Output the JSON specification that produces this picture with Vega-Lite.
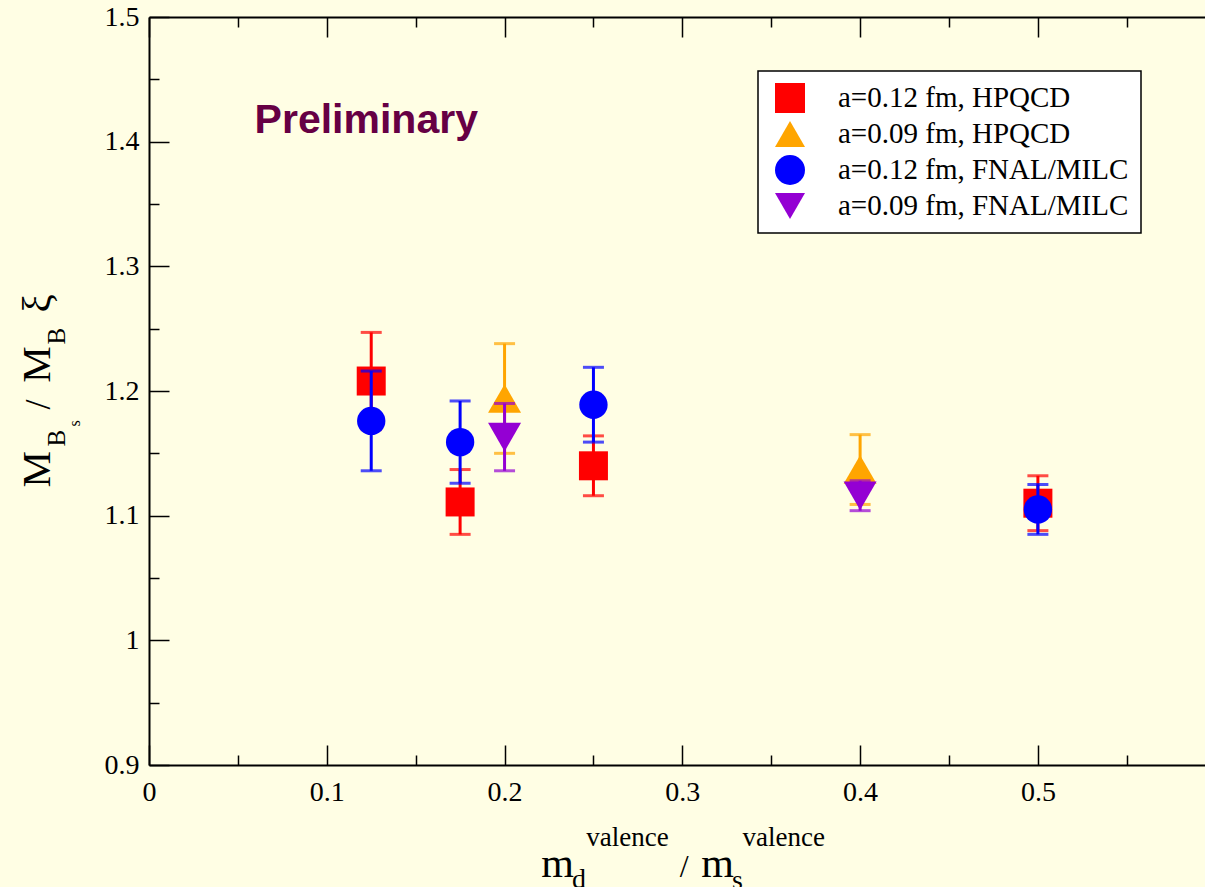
{
  "$schema": "https://vega.github.io/schema/vega-lite/v6.json",
  "autosize": {"type": "none"},
  "padding": {"left": 149, "top": 17, "right": 0, "bottom": 122},
  "width": 1056,
  "height": 748,
  "background": "#fffee4",
  "config": {
    "view": {"stroke": null},
    "axis": {"grid": false, "domainColor": "black", "domainWidth": 2, "tickColor": "black", "tickWidth": 1.5, "labelFont": "Liberation Serif", "labelFontSize": 28, "labelColor": "black", "labelFlush": false, "labelOverlap": false},
    "legend": {"strokeWidth": 1.5}
  },
  "data": {"values": [
    {"s": "a=0.12 fm, HPQCD", "x": 0.125, "y": 1.208, "lo": 1.169, "hi": 1.247},
    {"s": "a=0.12 fm, HPQCD", "x": 0.175, "y": 1.111, "lo": 1.085, "hi": 1.137},
    {"s": "a=0.12 fm, HPQCD", "x": 0.25, "y": 1.140, "lo": 1.116, "hi": 1.164},
    {"s": "a=0.12 fm, HPQCD", "x": 0.5, "y": 1.110, "lo": 1.088, "hi": 1.132},
    {"s": "a=0.09 fm, HPQCD", "x": 0.2, "y": 1.194, "lo": 1.150, "hi": 1.238},
    {"s": "a=0.09 fm, HPQCD", "x": 0.4, "y": 1.137, "lo": 1.109, "hi": 1.165},
    {"s": "a=0.12 fm, FNAL/MILC", "x": 0.125, "y": 1.176, "lo": 1.136, "hi": 1.216},
    {"s": "a=0.12 fm, FNAL/MILC", "x": 0.175, "y": 1.159, "lo": 1.126, "hi": 1.192},
    {"s": "a=0.12 fm, FNAL/MILC", "x": 0.25, "y": 1.189, "lo": 1.159, "hi": 1.219},
    {"s": "a=0.12 fm, FNAL/MILC", "x": 0.5, "y": 1.105, "lo": 1.085, "hi": 1.125},
    {"s": "a=0.09 fm, FNAL/MILC", "x": 0.2, "y": 1.163, "lo": 1.136, "hi": 1.190},
    {"s": "a=0.09 fm, FNAL/MILC", "x": 0.4, "y": 1.116, "lo": 1.104, "hi": 1.128}
  ]},
  "resolve": {"axis": {"x": "independent", "y": "independent"}},
  "layer": [
    {"transform": [{"filter": "datum.s === 'a=0.12 fm, HPQCD'"}],
     "mark": {"type": "rule", "color": "#ff0000", "strokeWidth": 3},
     "encoding": {
       "x": {"field": "x", "type": "quantitative", "scale": {"domain": [0, 0.594], "nice": false}, "axis": {"orient": "bottom", "title": null, "values": [0, 0.1, 0.2, 0.3, 0.4, 0.5], "format": "~g", "tickSize": -20, "labelPadding": 33}},
       "y": {"field": "lo", "type": "quantitative", "scale": {"domain": [0.9, 1.5], "nice": false, "zero": false}, "axis": {"orient": "left", "title": null, "values": [0.9, 1, 1.1, 1.2, 1.3, 1.4, 1.5], "format": "~g", "tickSize": -20, "labelPadding": 30}},
       "y2": {"field": "hi"}}},
    {"transform": [{"filter": "datum.s === 'a=0.12 fm, HPQCD'"}],
     "mark": {"type": "tick", "orient": "horizontal", "color": "#ff0000", "size": 21, "thickness": 3},
     "encoding": {
       "x": {"field": "x", "type": "quantitative", "scale": {"domain": [0, 0.594], "nice": false}, "axis": {"orient": "bottom", "title": null, "values": [0.05, 0.15, 0.25, 0.35, 0.45, 0.55], "labels": false, "domain": false, "tickSize": -10}},
       "y": {"field": "lo", "type": "quantitative", "scale": {"domain": [0.9, 1.5], "nice": false, "zero": false}, "axis": {"orient": "left", "title": null, "values": [0.95, 1.05, 1.15, 1.25, 1.35, 1.45], "labels": false, "domain": false, "tickSize": -10}}}},
    {"transform": [{"filter": "datum.s === 'a=0.12 fm, HPQCD'"}],
     "mark": {"type": "tick", "orient": "horizontal", "color": "#ff0000", "size": 21, "thickness": 3},
     "encoding": {
       "x": {"field": "x", "type": "quantitative", "scale": {"domain": [0, 0.594], "nice": false}, "axis": {"orient": "top", "title": null, "values": [0, 0.1, 0.2, 0.3, 0.4, 0.5], "labels": false, "tickSize": -20}},
       "y": {"field": "hi", "type": "quantitative", "scale": {"domain": [0.9, 1.5], "nice": false, "zero": false}, "axis": null}}},
    {"transform": [{"filter": "datum.s === 'a=0.12 fm, HPQCD'"}],
     "mark": {"type": "point", "filled": true, "opacity": 1, "size": 841, "strokeWidth": 0},
     "encoding": {
       "x": {"field": "x", "type": "quantitative", "scale": {"domain": [0, 0.594], "nice": false}, "axis": {"orient": "top", "title": null, "values": [0.05, 0.15, 0.25, 0.35, 0.45, 0.55], "labels": false, "domain": false, "tickSize": -10}},
       "y": {"field": "y", "type": "quantitative", "scale": {"domain": [0.9, 1.5], "nice": false, "zero": false}, "axis": null},
       "color": {"field": "s", "type": "nominal", "scale": {"domain": ["a=0.12 fm, HPQCD", "a=0.09 fm, HPQCD", "a=0.12 fm, FNAL/MILC", "a=0.09 fm, FNAL/MILC"], "range": ["#ff0000", "#ffa500", "#0000ff", "#9400d3"]}, "legend": {"title": null, "orient": "none", "legendX": 609, "legendY": 54, "fillColor": "white", "strokeColor": "black", "padding": 12, "symbolSize": 900, "symbolOffset": 5, "labelOffset": 33, "labelFont": "Liberation Serif", "labelFontSize": 29, "labelLimit": 500, "labelColor": "black", "rowPadding": 6, "symbolStrokeWidth": 0, "symbolOpacity": 1}},
       "shape": {"field": "s", "type": "nominal", "scale": {"domain": ["a=0.12 fm, HPQCD", "a=0.09 fm, HPQCD", "a=0.12 fm, FNAL/MILC", "a=0.09 fm, FNAL/MILC"], "range": ["square", "triangle-up", "circle", "triangle-down"]}, "legend": {"title": null, "orient": "none", "legendX": 609, "legendY": 54, "fillColor": "white", "strokeColor": "black", "padding": 12, "symbolSize": 900, "symbolOffset": 5, "labelOffset": 33, "labelFont": "Liberation Serif", "labelFontSize": 29, "labelLimit": 500, "labelColor": "black", "rowPadding": 6, "symbolStrokeWidth": 0, "symbolOpacity": 1}}}},

    {"transform": [{"filter": "datum.s === 'a=0.09 fm, HPQCD'"}],
     "mark": {"type": "rule", "color": "#ffa500", "strokeWidth": 3},
     "encoding": {
       "x": {"field": "x", "type": "quantitative", "scale": {"domain": [0, 0.594], "nice": false}, "axis": null},
       "y": {"field": "lo", "type": "quantitative", "scale": {"domain": [0.9, 1.5], "nice": false, "zero": false}, "axis": null},
       "y2": {"field": "hi"}}},
    {"transform": [{"filter": "datum.s === 'a=0.09 fm, HPQCD'"}],
     "mark": {"type": "tick", "orient": "horizontal", "color": "#ffa500", "size": 21, "thickness": 3},
     "encoding": {
       "x": {"field": "x", "type": "quantitative", "scale": {"domain": [0, 0.594], "nice": false}, "axis": null},
       "y": {"field": "lo", "type": "quantitative", "scale": {"domain": [0.9, 1.5], "nice": false, "zero": false}, "axis": null}}},
    {"transform": [{"filter": "datum.s === 'a=0.09 fm, HPQCD'"}],
     "mark": {"type": "tick", "orient": "horizontal", "color": "#ffa500", "size": 21, "thickness": 3},
     "encoding": {
       "x": {"field": "x", "type": "quantitative", "scale": {"domain": [0, 0.594], "nice": false}, "axis": null},
       "y": {"field": "hi", "type": "quantitative", "scale": {"domain": [0.9, 1.5], "nice": false, "zero": false}, "axis": null}}},
    {"transform": [{"filter": "datum.s === 'a=0.09 fm, HPQCD'"}],
     "mark": {"type": "point", "filled": true, "opacity": 1, "size": 1089, "strokeWidth": 0},
     "encoding": {
       "x": {"field": "x", "type": "quantitative", "scale": {"domain": [0, 0.594], "nice": false}, "axis": null},
       "y": {"field": "y", "type": "quantitative", "scale": {"domain": [0.9, 1.5], "nice": false, "zero": false}, "axis": null},
       "color": {"field": "s", "type": "nominal", "scale": {"domain": ["a=0.12 fm, HPQCD", "a=0.09 fm, HPQCD", "a=0.12 fm, FNAL/MILC", "a=0.09 fm, FNAL/MILC"], "range": ["#ff0000", "#ffa500", "#0000ff", "#9400d3"]}},
       "shape": {"field": "s", "type": "nominal", "scale": {"domain": ["a=0.12 fm, HPQCD", "a=0.09 fm, HPQCD", "a=0.12 fm, FNAL/MILC", "a=0.09 fm, FNAL/MILC"], "range": ["square", "triangle-up", "circle", "triangle-down"]}}}},

    {"transform": [{"filter": "datum.s === 'a=0.12 fm, FNAL/MILC'"}],
     "mark": {"type": "rule", "color": "#0000ff", "strokeWidth": 3},
     "encoding": {
       "x": {"field": "x", "type": "quantitative", "scale": {"domain": [0, 0.594], "nice": false}, "axis": null},
       "y": {"field": "lo", "type": "quantitative", "scale": {"domain": [0.9, 1.5], "nice": false, "zero": false}, "axis": null},
       "y2": {"field": "hi"}}},
    {"transform": [{"filter": "datum.s === 'a=0.12 fm, FNAL/MILC'"}],
     "mark": {"type": "tick", "orient": "horizontal", "color": "#0000ff", "size": 21, "thickness": 3},
     "encoding": {
       "x": {"field": "x", "type": "quantitative", "scale": {"domain": [0, 0.594], "nice": false}, "axis": null},
       "y": {"field": "lo", "type": "quantitative", "scale": {"domain": [0.9, 1.5], "nice": false, "zero": false}, "axis": null}}},
    {"transform": [{"filter": "datum.s === 'a=0.12 fm, FNAL/MILC'"}],
     "mark": {"type": "tick", "orient": "horizontal", "color": "#0000ff", "size": 21, "thickness": 3},
     "encoding": {
       "x": {"field": "x", "type": "quantitative", "scale": {"domain": [0, 0.594], "nice": false}, "axis": null},
       "y": {"field": "hi", "type": "quantitative", "scale": {"domain": [0.9, 1.5], "nice": false, "zero": false}, "axis": null}}},
    {"transform": [{"filter": "datum.s === 'a=0.12 fm, FNAL/MILC'"}],
     "mark": {"type": "point", "filled": true, "opacity": 1, "size": 804, "strokeWidth": 0},
     "encoding": {
       "x": {"field": "x", "type": "quantitative", "scale": {"domain": [0, 0.594], "nice": false}, "axis": null},
       "y": {"field": "y", "type": "quantitative", "scale": {"domain": [0.9, 1.5], "nice": false, "zero": false}, "axis": null},
       "color": {"field": "s", "type": "nominal", "scale": {"domain": ["a=0.12 fm, HPQCD", "a=0.09 fm, HPQCD", "a=0.12 fm, FNAL/MILC", "a=0.09 fm, FNAL/MILC"], "range": ["#ff0000", "#ffa500", "#0000ff", "#9400d3"]}},
       "shape": {"field": "s", "type": "nominal", "scale": {"domain": ["a=0.12 fm, HPQCD", "a=0.09 fm, HPQCD", "a=0.12 fm, FNAL/MILC", "a=0.09 fm, FNAL/MILC"], "range": ["square", "triangle-up", "circle", "triangle-down"]}}}},

    {"transform": [{"filter": "datum.s === 'a=0.09 fm, FNAL/MILC'"}],
     "mark": {"type": "rule", "color": "#9400d3", "strokeWidth": 3},
     "encoding": {
       "x": {"field": "x", "type": "quantitative", "scale": {"domain": [0, 0.594], "nice": false}, "axis": null},
       "y": {"field": "lo", "type": "quantitative", "scale": {"domain": [0.9, 1.5], "nice": false, "zero": false}, "axis": null},
       "y2": {"field": "hi"}}},
    {"transform": [{"filter": "datum.s === 'a=0.09 fm, FNAL/MILC'"}],
     "mark": {"type": "tick", "orient": "horizontal", "color": "#9400d3", "size": 21, "thickness": 3},
     "encoding": {
       "x": {"field": "x", "type": "quantitative", "scale": {"domain": [0, 0.594], "nice": false}, "axis": null},
       "y": {"field": "lo", "type": "quantitative", "scale": {"domain": [0.9, 1.5], "nice": false, "zero": false}, "axis": null}}},
    {"transform": [{"filter": "datum.s === 'a=0.09 fm, FNAL/MILC'"}],
     "mark": {"type": "tick", "orient": "horizontal", "color": "#9400d3", "size": 21, "thickness": 3},
     "encoding": {
       "x": {"field": "x", "type": "quantitative", "scale": {"domain": [0, 0.594], "nice": false}, "axis": null},
       "y": {"field": "hi", "type": "quantitative", "scale": {"domain": [0.9, 1.5], "nice": false, "zero": false}, "axis": null}}},
    {"transform": [{"filter": "datum.s === 'a=0.09 fm, FNAL/MILC'"}],
     "mark": {"type": "point", "filled": true, "opacity": 1, "size": 1089, "strokeWidth": 0},
     "encoding": {
       "x": {"field": "x", "type": "quantitative", "scale": {"domain": [0, 0.594], "nice": false}, "axis": null},
       "y": {"field": "y", "type": "quantitative", "scale": {"domain": [0.9, 1.5], "nice": false, "zero": false}, "axis": null},
       "color": {"field": "s", "type": "nominal", "scale": {"domain": ["a=0.12 fm, HPQCD", "a=0.09 fm, HPQCD", "a=0.12 fm, FNAL/MILC", "a=0.09 fm, FNAL/MILC"], "range": ["#ff0000", "#ffa500", "#0000ff", "#9400d3"]}},
       "shape": {"field": "s", "type": "nominal", "scale": {"domain": ["a=0.12 fm, HPQCD", "a=0.09 fm, HPQCD", "a=0.12 fm, FNAL/MILC", "a=0.09 fm, FNAL/MILC"], "range": ["square", "triangle-up", "circle", "triangle-down"]}}}},

    {"data": {"values": [{}]}, "mark": {"type": "text", "text": "Preliminary", "font": "Liberation Sans", "fontWeight": "bold", "fontSize": 41, "color": "#660044", "align": "left", "baseline": "alphabetic"},
     "encoding": {"x": {"datum": 0.0594, "type": "quantitative", "scale": {"domain": [0, 0.594], "nice": false}, "axis": null}, "y": {"datum": 1.4072, "type": "quantitative", "scale": {"domain": [0.9, 1.5], "nice": false, "zero": false}, "axis": null}}},

    {"data": {"values": [{}]}, "mark": {"type": "text", "text": "m", "font": "Liberation Serif", "fontSize": 42, "color": "black", "align": "left", "baseline": "alphabetic"},
     "encoding": {"x": {"datum": 0.2207, "type": "quantitative", "scale": {"domain": [0, 0.594], "nice": false}, "axis": null}, "y": {"datum": 0.8098, "type": "quantitative", "scale": {"domain": [0.9, 1.5], "nice": false, "zero": false}, "axis": null}}},
    {"data": {"values": [{}]}, "mark": {"type": "text", "text": "d", "font": "Liberation Serif", "fontSize": 28, "color": "black", "align": "left", "baseline": "alphabetic"},
     "encoding": {"x": {"datum": 0.2380, "type": "quantitative", "scale": {"domain": [0, 0.594], "nice": false}, "axis": null}, "y": {"datum": 0.8010, "type": "quantitative", "scale": {"domain": [0.9, 1.5], "nice": false, "zero": false}, "axis": null}}},
    {"data": {"values": [{}]}, "mark": {"type": "text", "text": "valence", "font": "Liberation Serif", "fontSize": 27, "color": "black", "align": "left", "baseline": "alphabetic"},
     "encoding": {"x": {"datum": 0.2460, "type": "quantitative", "scale": {"domain": [0, 0.594], "nice": false}, "axis": null}, "y": {"datum": 0.8349, "type": "quantitative", "scale": {"domain": [0.9, 1.5], "nice": false, "zero": false}, "axis": null}}},
    {"data": {"values": [{}]}, "mark": {"type": "text", "text": "/", "font": "Liberation Serif", "fontSize": 32, "color": "black", "align": "left", "baseline": "alphabetic"},
     "encoding": {"x": {"datum": 0.2985, "type": "quantitative", "scale": {"domain": [0, 0.594], "nice": false}, "axis": null}, "y": {"datum": 0.8098, "type": "quantitative", "scale": {"domain": [0.9, 1.5], "nice": false, "zero": false}, "axis": null}}},
    {"data": {"values": [{}]}, "mark": {"type": "text", "text": "m", "font": "Liberation Serif", "fontSize": 42, "color": "black", "align": "left", "baseline": "alphabetic"},
     "encoding": {"x": {"datum": 0.3107, "type": "quantitative", "scale": {"domain": [0, 0.594], "nice": false}, "axis": null}, "y": {"datum": 0.8098, "type": "quantitative", "scale": {"domain": [0.9, 1.5], "nice": false, "zero": false}, "axis": null}}},
    {"data": {"values": [{}]}, "mark": {"type": "text", "text": "s", "font": "Liberation Serif", "fontSize": 28, "color": "black", "align": "left", "baseline": "alphabetic"},
     "encoding": {"x": {"datum": 0.3280, "type": "quantitative", "scale": {"domain": [0, 0.594], "nice": false}, "axis": null}, "y": {"datum": 0.8002, "type": "quantitative", "scale": {"domain": [0.9, 1.5], "nice": false, "zero": false}, "axis": null}}},
    {"data": {"values": [{}]}, "mark": {"type": "text", "text": "valence", "font": "Liberation Serif", "fontSize": 27, "color": "black", "align": "left", "baseline": "alphabetic"},
     "encoding": {"x": {"datum": 0.3339, "type": "quantitative", "scale": {"domain": [0, 0.594], "nice": false}, "axis": null}, "y": {"datum": 0.8349, "type": "quantitative", "scale": {"domain": [0.9, 1.5], "nice": false, "zero": false}, "axis": null}}},

    {"data": {"values": [{}]}, "mark": {"type": "text", "text": "M", "angle": 270, "font": "Liberation Serif", "fontSize": 41, "color": "black", "align": "left", "baseline": "alphabetic"},
     "encoding": {"x": {"datum": -0.05585, "type": "quantitative", "scale": {"domain": [0, 0.594], "nice": false}, "axis": null}, "y": {"datum": 1.1225, "type": "quantitative", "scale": {"domain": [0.9, 1.5], "nice": false, "zero": false}, "axis": null}}},
    {"data": {"values": [{}]}, "mark": {"type": "text", "text": "B", "angle": 270, "font": "Liberation Serif", "fontSize": 25, "color": "black", "align": "left", "baseline": "alphabetic"},
     "encoding": {"x": {"datum": -0.04741, "type": "quantitative", "scale": {"domain": [0, 0.594], "nice": false}, "axis": null}, "y": {"datum": 1.1554, "type": "quantitative", "scale": {"domain": [0.9, 1.5], "nice": false, "zero": false}, "axis": null}}},
    {"data": {"values": [{}]}, "mark": {"type": "text", "text": "s", "angle": 270, "font": "Liberation Serif", "fontSize": 16, "color": "black", "align": "left", "baseline": "alphabetic"},
     "encoding": {"x": {"datum": -0.03898, "type": "quantitative", "scale": {"domain": [0, 0.594], "nice": false}, "axis": null}, "y": {"datum": 1.1715, "type": "quantitative", "scale": {"domain": [0.9, 1.5], "nice": false, "zero": false}, "axis": null}}},
    {"data": {"values": [{}]}, "mark": {"type": "text", "text": "/", "angle": 270, "font": "Liberation Serif", "fontSize": 36, "color": "black", "align": "left", "baseline": "alphabetic"},
     "encoding": {"x": {"datum": -0.05585, "type": "quantitative", "scale": {"domain": [0, 0.594], "nice": false}, "axis": null}, "y": {"datum": 1.1851, "type": "quantitative", "scale": {"domain": [0.9, 1.5], "nice": false, "zero": false}, "axis": null}}},
    {"data": {"values": [{}]}, "mark": {"type": "text", "text": "M", "angle": 270, "font": "Liberation Serif", "fontSize": 41, "color": "black", "align": "left", "baseline": "alphabetic"},
     "encoding": {"x": {"datum": -0.05585, "type": "quantitative", "scale": {"domain": [0, 0.594], "nice": false}, "axis": null}, "y": {"datum": 1.2067, "type": "quantitative", "scale": {"domain": [0.9, 1.5], "nice": false, "zero": false}, "axis": null}}},
    {"data": {"values": [{}]}, "mark": {"type": "text", "text": "B", "angle": 270, "font": "Liberation Serif", "fontSize": 25, "color": "black", "align": "left", "baseline": "alphabetic"},
     "encoding": {"x": {"datum": -0.04741, "type": "quantitative", "scale": {"domain": [0, 0.594], "nice": false}, "axis": null}, "y": {"datum": 1.2372, "type": "quantitative", "scale": {"domain": [0.9, 1.5], "nice": false, "zero": false}, "axis": null}}},
    {"data": {"values": [{}]}, "mark": {"type": "text", "text": "ξ", "angle": 270, "font": "Liberation Serif", "fontSize": 41, "color": "black", "align": "left", "baseline": "alphabetic"},
     "encoding": {"x": {"datum": -0.05585, "type": "quantitative", "scale": {"domain": [0, 0.594], "nice": false}, "axis": null}, "y": {"datum": 1.2629, "type": "quantitative", "scale": {"domain": [0.9, 1.5], "nice": false, "zero": false}, "axis": null}}}
  ]
}
